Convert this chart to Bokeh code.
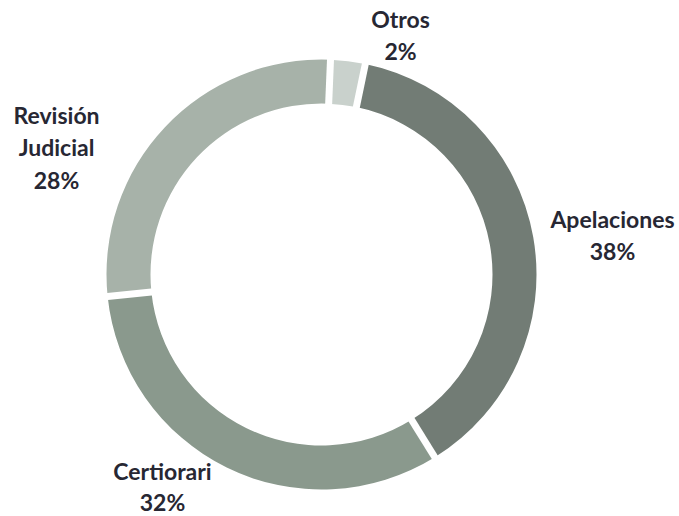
import math
from bokeh.plotting import figure
from bokeh.models import Range1d, ColumnDataSource
from bokeh.core.properties import value
from bokeh.embed import file_html
from bokeh.resources import INLINE

# ---- data ----
categories = ["Otros", "Apelaciones", "Certiorari", "Revisión Judicial"]
shares = [2.6, 37.9, 32.2, 27.3]
pct_labels = ["2%", "38%", "32%", "28%"]
label_lines = [["Otros", "2%"], ["Apelaciones", "38%"], ["Certiorari", "32%"],
               ["Revisión", "Judicial", "28%"]]
colors = ["#c9d1cc", "#727c75", "#8a998d", "#a7b2a9"]

# ---- layout ----
W, H = 679, 516
cx, cy = 321, 242
r_in, r_out = 171, 215
start_deg = 87.6
label_anchor = [(400, 498), (612, 298), (162, 46), (56, 402)]  # top line centre
line_gaps = [32.5, 32.5, 31, 32.5]

p = figure(width=W, height=H, output_backend="svg", toolbar_location=None,
           x_range=Range1d(0, W), y_range=Range1d(0, H), min_border=0)
p.axis.visible = False
p.grid.visible = False
p.outline_line_color = None
p.background_fill_color = "white"

total = sum(shares)
starts, ends = [], []
cum = 0.0
for s in shares:
    starts.append(start_deg - cum / total * 360)
    cum += s
    ends.append(start_deg - cum / total * 360)

src = ColumnDataSource(dict(start=starts, end=ends, color=colors, cat=categories))
p.annular_wedge(x=cx, y=cy, inner_radius=r_in, outer_radius=r_out,
                start_angle="start", end_angle="end", start_angle_units="deg",
                end_angle_units="deg", direction="clock", color="color",
                source=src, line_color=None)

# white separators between slices
x0s, y0s, x1s, y1s = [], [], [], []
for a in starts:
    t = math.radians(a)
    x0s.append(cx + (r_in - 5) * math.cos(t)); y0s.append(cy + (r_in - 5) * math.sin(t))
    x1s.append(cx + (r_out + 5) * math.cos(t)); y1s.append(cy + (r_out + 5) * math.sin(t))
p.segment(x0=x0s, y0=y0s, x1=x1s, y1=y1s, line_color="white", line_width=7)

tx, ty, tt = [], [], []
for (ax, ay), lines, g in zip(label_anchor, label_lines, line_gaps):
    for i, ln in enumerate(lines):
        tx.append(ax); ty.append(ay - i * g); tt.append(ln)
p.text(x=tx, y=ty, text=tt, text_font=value("Lato"), text_font_style="bold",
       text_font_size="23px", text_color="#272733", text_align="center",
       text_baseline="middle")

open("out.html", "w").write(file_html(p, INLINE))
